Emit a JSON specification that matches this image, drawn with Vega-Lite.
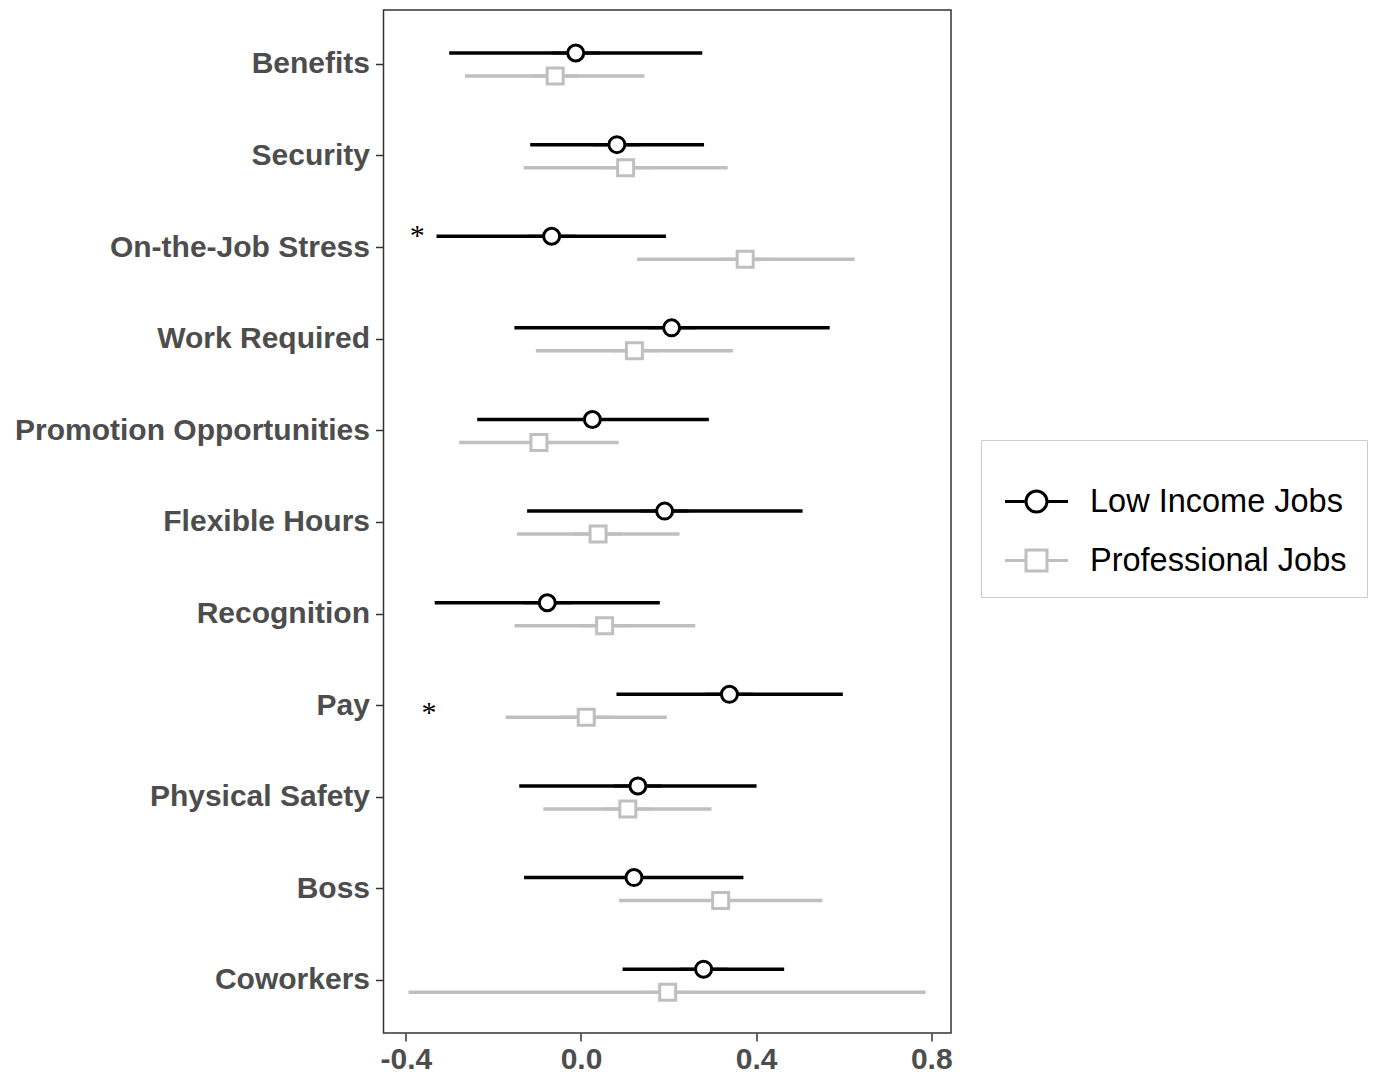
{
  "$schema": "https://vega.github.io/schema/vega-lite/v6.json",
  "width": 567.5,
  "height": 1023,
  "autosize": {"type": "none"},
  "padding": {"left": 383.5, "top": 10, "right": 433, "bottom": 45},
  "background": "white",
  "config": {
    "view": {"stroke": "#333333", "strokeWidth": 1.5},
    "axis": {"grid": false, "domain": false, "labelFont": "Liberation Sans", "labelFontWeight": "bold", "labelFontSize": 30, "labelColor": "#4d4d4d", "tickColor": "#333333", "tickWidth": 1.5, "tickSize": 8, "labelLimit": 0},
    "legend": {"orient": "none", "legendX": 597.5, "legendY": 430, "padding": 20, "strokeColor": "#cccccc", "fillColor": "white", "symbolSize": 1764, "symbolStrokeWidth": 3, "symbolFillColor": "white", "labelFont": "Liberation Sans", "labelFontSize": 32.5, "labelColor": "black", "labelOffset": 31, "symbolOffset": 13, "rowPadding": 20, "labelLimit": 400, "titleFontSize": 11, "titlePadding": 8}
  },
  "datasets": {
    "est": [
      {"category": "Benefits", "series": "Low Income Jobs", "est": -0.012, "lo": -0.301, "hi": 0.277},
      {"category": "Benefits", "series": "Professional Jobs", "est": -0.059, "lo": -0.265, "hi": 0.145},
      {"category": "Security", "series": "Low Income Jobs", "est": 0.082, "lo": -0.116, "hi": 0.281},
      {"category": "Security", "series": "Professional Jobs", "est": 0.102, "lo": -0.131, "hi": 0.335},
      {"category": "On-the-Job Stress", "series": "Low Income Jobs", "est": -0.067, "lo": -0.330, "hi": 0.194},
      {"category": "On-the-Job Stress", "series": "Professional Jobs", "est": 0.375, "lo": 0.128, "hi": 0.625},
      {"category": "Work Required", "series": "Low Income Jobs", "est": 0.207, "lo": -0.152, "hi": 0.568},
      {"category": "Work Required", "series": "Professional Jobs", "est": 0.122, "lo": -0.103, "hi": 0.347},
      {"category": "Promotion Opportunities", "series": "Low Income Jobs", "est": 0.026, "lo": -0.237, "hi": 0.292},
      {"category": "Promotion Opportunities", "series": "Professional Jobs", "est": -0.096, "lo": -0.278, "hi": 0.086},
      {"category": "Flexible Hours", "series": "Low Income Jobs", "est": 0.191, "lo": -0.123, "hi": 0.506},
      {"category": "Flexible Hours", "series": "Professional Jobs", "est": 0.039, "lo": -0.146, "hi": 0.225},
      {"category": "Recognition", "series": "Low Income Jobs", "est": -0.077, "lo": -0.334, "hi": 0.180},
      {"category": "Recognition", "series": "Professional Jobs", "est": 0.054, "lo": -0.152, "hi": 0.261},
      {"category": "Pay", "series": "Low Income Jobs", "est": 0.339, "lo": 0.081, "hi": 0.598},
      {"category": "Pay", "series": "Professional Jobs", "est": 0.012, "lo": -0.172, "hi": 0.196},
      {"category": "Physical Safety", "series": "Low Income Jobs", "est": 0.130, "lo": -0.141, "hi": 0.401},
      {"category": "Physical Safety", "series": "Professional Jobs", "est": 0.107, "lo": -0.086, "hi": 0.298},
      {"category": "Boss", "series": "Low Income Jobs", "est": 0.121, "lo": -0.130, "hi": 0.371},
      {"category": "Boss", "series": "Professional Jobs", "est": 0.319, "lo": 0.087, "hi": 0.551},
      {"category": "Coworkers", "series": "Low Income Jobs", "est": 0.280, "lo": 0.095, "hi": 0.464},
      {"category": "Coworkers", "series": "Professional Jobs", "est": 0.198, "lo": -0.394, "hi": 0.787}
    ],
    "sig": [
      {"category": "On-the-Job Stress", "series": "Low Income Jobs", "x": -0.374, "label": "*"},
      {"category": "Pay", "series": "Between", "x": -0.347, "label": "*"}
    ]
  },
  "layer": [
    {
      "mark": {"type": "rule", "strokeDash": [5, 4], "color": "#333333", "strokeWidth": 1.3},
      "encoding": {
        "x": {"datum": 0, "type": "quantitative", "scale": {"domain": [-0.451, 0.845], "nice": false, "zero": false}}
      }
    },
    {
      "data": {"name": "est"},
      "mark": {"type": "rule", "strokeWidth": 3.5},
      "encoding": {
        "y": {"field": "category", "type": "nominal", "title": null,
              "sort": ["Benefits", "Security", "On-the-Job Stress", "Work Required", "Promotion Opportunities", "Flexible Hours", "Recognition", "Pay", "Physical Safety", "Boss", "Coworkers"],
              "scale": {"type": "band", "paddingInner": 0, "paddingOuter": 0.083, "align": 0.56},
              "axis": {"labelPadding": 6}},
        "yOffset": {"field": "series", "type": "nominal", "scale": {"domain": ["Low Income Jobs", "Professional Jobs"], "range": [23, 69], "paddingInner": 0, "paddingOuter": 0}},
        "x": {"field": "lo", "type": "quantitative", "title": null,
              "scale": {"domain": [-0.451, 0.845], "nice": false, "zero": false},
              "axis": {"values": [-0.4, 0, 0.4, 0.8], "labelExpr": "replace(format(datum.value, '.1f'), '\u2212', '-')", "labelPadding": 3, "labelFlush": false}},
        "x2": {"field": "hi"},
        "color": {"field": "series", "type": "nominal", "title": " ", "scale": {"domain": ["Low Income Jobs", "Professional Jobs"], "range": ["#000000", "#bfbfbf"]}}
      }
    },
    {
      "data": {"name": "est"},
      "mark": {"type": "point", "filled": false, "fill": "white", "size": 1024, "strokeWidth": 3, "opacity": 1},
      "encoding": {
        "y": {"field": "category", "type": "nominal", "sort": ["Benefits", "Security", "On-the-Job Stress", "Work Required", "Promotion Opportunities", "Flexible Hours", "Recognition", "Pay", "Physical Safety", "Boss", "Coworkers"]},
        "yOffset": {"field": "series", "type": "nominal"},
        "x": {"field": "est", "type": "quantitative"},
        "color": {"field": "series", "type": "nominal", "title": " "},
        "shape": {"field": "series", "type": "nominal", "title": " ", "scale": {"domain": ["Low Income Jobs", "Professional Jobs"], "range": ["M -1.5 0 L -0.5 0 M 0.5 0 L 1.5 0 M -0.5 0 A 0.5 0.5 0 1 1 0.5 0 A 0.5 0.5 0 1 1 -0.5 0 Z", "M -1.5 0 L -0.5 0 M 0.5 0 L 1.5 0 M -0.5 -0.5 L 0.5 -0.5 L 0.5 0.5 L -0.5 0.5 Z"]}}
      }
    },
    {
      "data": {"name": "sig"},
      "transform": [{"filter": "datum.series === 'Low Income Jobs'"}],
      "mark": {"type": "text", "font": "Liberation Serif", "fontSize": 30, "color": "black", "align": "center", "baseline": "middle"},
      "encoding": {
        "y": {"field": "category", "type": "nominal", "sort": ["Benefits", "Security", "On-the-Job Stress", "Work Required", "Promotion Opportunities", "Flexible Hours", "Recognition", "Pay", "Physical Safety", "Boss", "Coworkers"]},
        "yOffset": {"field": "series", "type": "nominal"},
        "x": {"field": "x", "type": "quantitative"},
        "text": {"field": "label"}
      }
    },
    {
      "data": {"name": "sig"},
      "transform": [{"filter": "datum.series === 'Between'"}],
      "mark": {"type": "text", "font": "Liberation Serif", "fontSize": 30, "color": "black", "align": "center", "baseline": "middle", "dy": 7},
      "encoding": {
        "y": {"field": "category", "type": "nominal", "sort": ["Benefits", "Security", "On-the-Job Stress", "Work Required", "Promotion Opportunities", "Flexible Hours", "Recognition", "Pay", "Physical Safety", "Boss", "Coworkers"]},
        "x": {"field": "x", "type": "quantitative"},
        "text": {"field": "label"}
      }
    }
  ]
}
